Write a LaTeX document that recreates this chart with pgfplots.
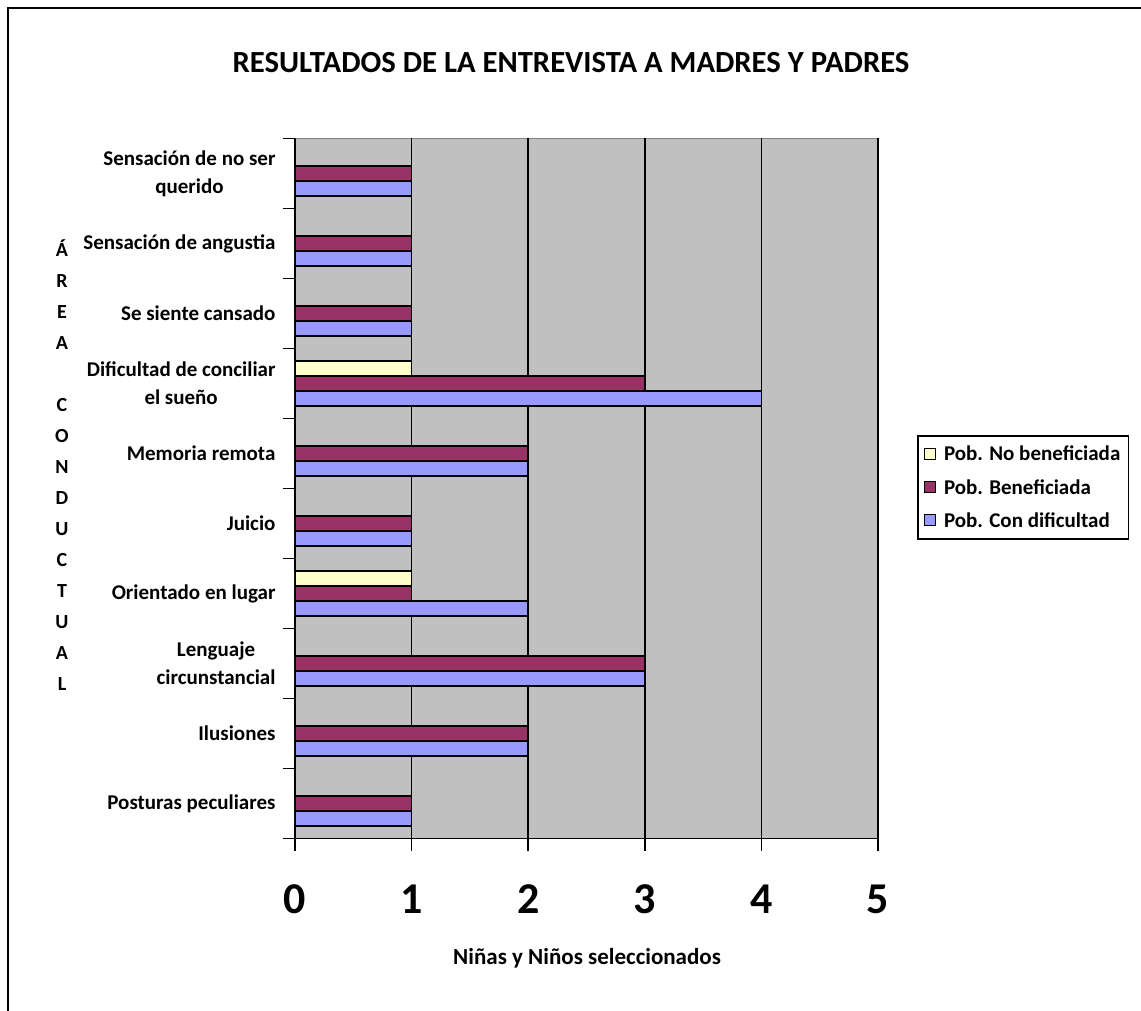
\documentclass[border=0pt]{standalone}
\usepackage{fontspec}
\setmainfont{Carlito}
\usepackage{pgfplots}
\pgfplotsset{compat=1.18}
\definecolor{cyel}{HTML}{FFFFCC}
\definecolor{cmar}{HTML}{993366}
\definecolor{cblu}{HTML}{9999FF}
\definecolor{cgray}{HTML}{C0C0C0}
\definecolor{cgrayd}{HTML}{808080}
\begin{document}
\begin{tikzpicture}[x=1pt,y=1pt]
\draw[line width=2pt] (8,-5) -- (8,1002) -- (1150,1002);
\node[font=\bfseries\fontsize{30.7}{34}\selectfont] at (571,947) {RESULTADOS DE LA ENTREVISTA A MADRES Y PADRES};
\node[font=\bfseries\fontsize{20}{31}\selectfont, align=center] at (62,545) {Á\\R\\E\\A\\~\\C\\O\\N\\D\\U\\C\\T\\U\\A\\L};
\begin{axis}[
 at={(253,245)}, anchor=south west,
 scale only axis, width=583pt, height=700pt,
 xbar, bar width=15pt,
 xmin=0, xmax=5, ymin=-0.5, ymax=9.5,
 axis lines*=left,
 axis line style={black, line width=1.5pt},
 axis background/.style={fill=cgray, draw=cgrayd, line width=1pt},
 xtick={0,1,2,3,4,5},
 xmajorgrids, major grid style={black, line width=1.5pt},
 ytick={-0.5,0.5,1.5,2.5,3.5,4.5,5.5,6.5,7.5,8.5,9.5},
 yticklabels={Posturas peculiares, Ilusiones, Lenguaje\\circunstancial, Orientado en lugar, Juicio, Memoria remota, Dificultad de conciliar\\el sueño, Se siente cansado, Sensación de angustia, Sensación de no ser\\querido, {}},
 tick align=outside, major tick length=12pt,
 tick style={black, line width=1.5pt},
 x tick label style={font=\bfseries\fontsize{44}{44}\selectfont, text height=28pt, text depth=0pt, yshift=-31pt},
 y tick label style={font=\bfseries\fontsize{21}{28}\selectfont, align=center, yshift=35pt, xshift=-4pt},
 /pgf/number format/assume math mode=true,
 xlabel={Niñas y Niños seleccionados},
 xlabel style={font=\bfseries\fontsize{23}{25}\selectfont, at={(axis description cs:0.501,0)}, anchor=center, yshift=-120pt},
 legend style={at={(axis description cs:1.067,0.576)}, anchor=north west, draw=black, line width=1.5pt,
   font=\bfseries\fontsize{21}{24}\selectfont, row sep=13pt, inner xsep=6pt, inner ysep=8pt, cells={anchor=west},
   /tikz/every odd column/.append style={column sep=6pt}},
 legend image code/.code={\draw[#1, line width=1.2pt] (0pt,-5pt) rectangle (11pt,6pt);},
]
\addplot[fill=cyel, draw=black, line width=1.5pt, bar shift=15pt] coordinates {(1,3) (1,6)};
\addplot[fill=cmar, draw=black, line width=1.5pt, bar shift=0pt] coordinates {(1,0) (2,1) (3,2) (1,3) (1,4) (2,5) (3,6) (1,7) (1,8) (1,9)};
\addplot[fill=cblu, draw=black, line width=1.5pt, bar shift=-15pt] coordinates {(1,0) (2,1) (3,2) (2,3) (1,4) (2,5) (4,6) (1,7) (1,8) (1,9)};
\legend{Pob. No beneficiada, Pob. Beneficiada, Pob. Con dificultad}
\end{axis}
\pgfresetboundingbox
\useasboundingbox (0,0) rectangle (1141,1010);
\end{tikzpicture}
\end{document}
